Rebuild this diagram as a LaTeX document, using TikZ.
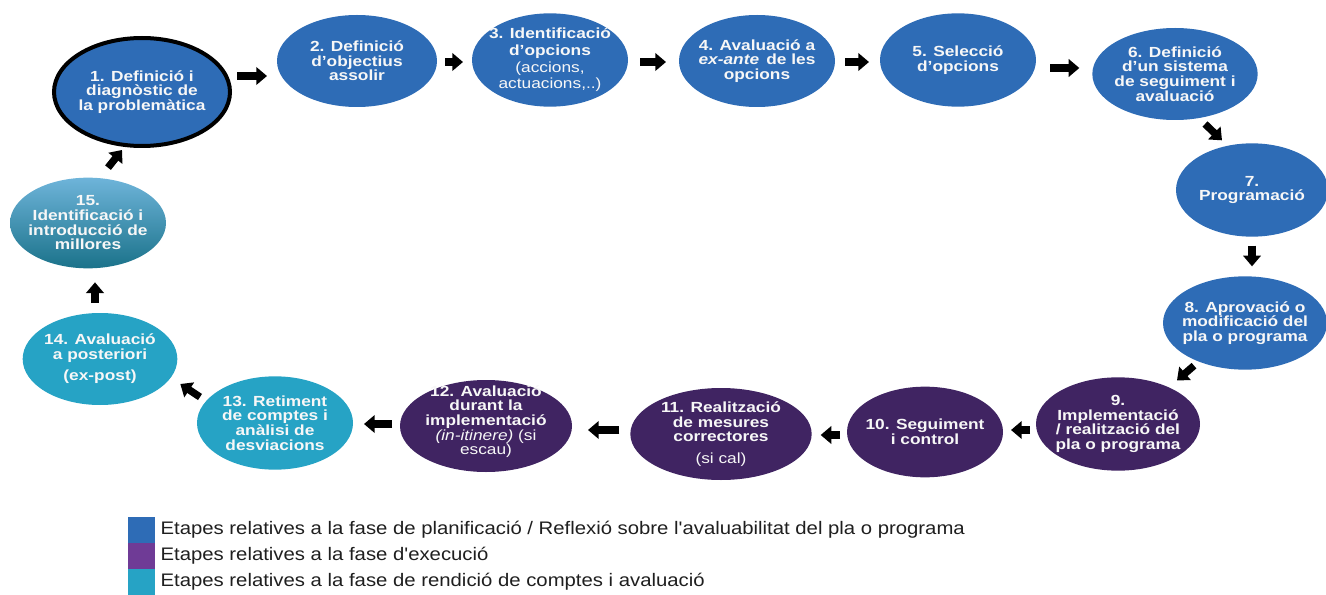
\documentclass[tikz,border=0pt]{standalone}
\usepackage{fontspec}
\setmainfont{Liberation Sans}
\newfontfamily\stagefont[FakeStretch=1.18]{Liberation Sans}
\newfontfamily\legfont[FakeStretch=1.12]{Liberation Sans}
\usetikzlibrary{shapes.geometric,arrows.meta,positioning}
\definecolor{planblue}{RGB}{46,108,182}
\definecolor{execpurple}{RGB}{64,36,98}
\definecolor{legpurple}{RGB}{111,59,150}
\definecolor{rendteal}{RGB}{38,163,197}

\begin{document}
\begin{tikzpicture}[x=0.75pt,y=-0.75pt,
  stage/.style={ellipse,inner sep=-10pt,outer sep=0pt,text=white!94!gray,align=center,
    font=\stagefont\fontsize{11}{11}\selectfont\bfseries,minimum width=#1},
  plan/.style={stage=#1,fill=planblue},
  exec/.style={stage=#1,fill=execpurple},
  rend/.style={stage=#1,fill=rendteal},
  blk/.style={line width=5.5pt,-{Triangle[width=13pt,length=8pt]}},
  legsq/.style={rectangle,inner sep=0pt,outer sep=0pt,minimum width=20.25pt,minimum height=19.5pt},
  legtxt/.style={anchor=west,inner sep=0pt,text=black!88,font=\legfont\fontsize{13.6}{13.6}\selectfont}]
\useasboundingbox (0,0) rectangle (1326,595);

% fase de planificacio
\node[plan=132pt,minimum height=81pt,draw=black,line width=3pt] (s1) at (142,92)
  {1. Definició i\\diagnòstic de\\la problemàtica};
\node[plan=120pt,minimum height=69pt] (s2) at (357,61) {2. Definició\\d’objectius\\assolir};
\node[plan=117pt,minimum height=70pt] (s3) at (550,60)
  {3. Identificació\\[1.5pt]d’opcions\\[1.5pt]{\mdseries (accions,}\\[1.5pt]{\mdseries actuacions,..)}};
\node[plan=117pt,minimum height=69pt] (s4) at (757,61)
  {4. Avaluació a\\\textit{ex-ante}\, de les\\opcions};
\node[plan=117pt,minimum height=70pt] (s5) at (958,60) {5. Selecció\\d’opcions};
\node[plan=124pt,minimum height=69pt] (s6) at (1175,74)
  {6. Definició\\d’un sistema\\de seguiment i\\avaluació};
\node[plan=114pt,minimum height=70pt] (s7) at (1252,190) {7.\\Programació};
\node[plan=123pt,minimum height=70pt] (s8) at (1245,323)
  {8. Aprovació o\\modificació del\\pla o programa};

% fase d'execucio
\node[exec=123pt,minimum height=70pt] (s9) at (1118,424)
  {9.\\Implementació\\/ realització del\\pla o programa};
\node[exec=117pt,minimum height=68pt] (s10) at (925,432) {10. Seguiment\\i control};
\node[exec=136pt,minimum height=69pt] (s11) at (721,434)
  {11. Realització\\de mesures\\correctores\\[5pt]{\mdseries (si cal)}};
\node[exec=129pt,minimum height=69pt] (s12) at (486,426)
  {12. Avaluació\\durant la\\implementació\\{\mdseries\itshape (in-itinere)}{\mdseries\ (si}\\{\mdseries escau)}\\[-2pt]\mbox{}};

% fase de rendicio de comptes
\node[rend=117pt,minimum height=70pt] (s13) at (275,423)
  {13. Retiment\\de comptes i\\anàlisi de\\desviacions};
\node[rend=116pt,minimum height=69pt] (s14) at (100,359)
  {14. Avaluació\\a posteriori\\[5pt](ex-post)};
\node[stage=117pt,minimum height=68pt,top color=planblue!60!white!85!cyan,
  middle color=planblue!80!rendteal,bottom color=rendteal!70!black] (s15) at (88,223)
  {15.\\Identificació i\\introducció de\\millores};

% fletxes
\foreach \a/\sa/\b/\sb in %
{s1.east/{7,-16}/s2.west/{-10,15}, s2.east/{8,1}/s3.west/{-9,2},
 s3.east/{12,2}/s4.west/{-13,1}, s4.east/{10,1}/s5.west/{-11,2},
 s5.east/{14,8}/s6.west/{-13,-6}, s6.south/{30,4}/s7.north/{-30,-3},
 s7.south/{0,9}/s8.north/{7,-10}, s8.south/{-51,-4}/s9.north/{59,3},
 s9.west/{-6,6}/s10.east/{8,-2}, s10.west/{-7,3}/s11.east/{9,1},
 s11.west/{-11,-4}/s12.east/{16,4}, s12.west/{-8,-2}/s13.east/{11,1},
 s13.west/{3,-26}/s14.east/{3,25}, s14.north/{-5,-10}/s15.south/{7,14},
 s15.north/{20,-10}/s1.south/{-20,4}} {
   \draw[blk] ([shift={(\sa)}]\a) -- ([shift={(\sb)}]\b);
}

% llegenda
\node[legsq,fill=planblue] (k1) at (141.5,530) {};
\node[legsq,fill=legpurple,below=0pt of k1] (k2) {};
\node[legsq,fill=rendteal,below=0pt of k2] (k3) {};
\node[legtxt,right=4pt of k1] (t1) {Etapes relatives a la fase de planificació / Reflexió sobre l'avaluabilitat del pla o programa};
\node[legtxt,right=4pt of k2] (t2) {Etapes relatives a la fase d'execució};
\node[legtxt,right=4pt of k3] (t3) {Etapes relatives a la fase de rendició de comptes i avaluació};
\end{tikzpicture}
\end{document}
